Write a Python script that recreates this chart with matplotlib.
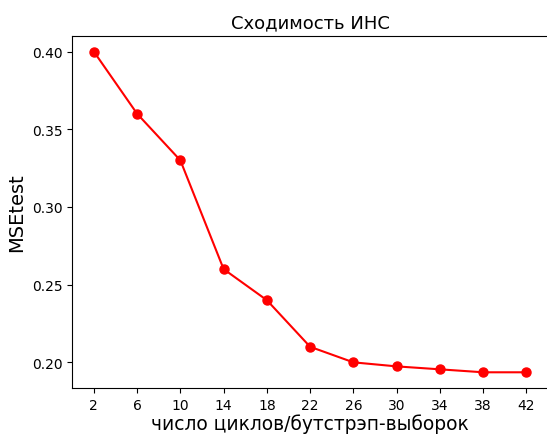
import matplotlib
matplotlib.use('Agg')
import matplotlib.pyplot as plt

cycles = [2, 6, 10, 14, 18, 22, 26, 30, 34, 38, 42]
mse_test = [0.400, 0.360, 0.330, 0.260, 0.240, 0.210, 0.200, 0.1974, 0.1955, 0.1936, 0.1936]

fig = plt.figure(figsize=(5.47, 4.35), dpi=100)
ax = fig.add_axes([0.132, 0.105, 0.870, 0.811])
ax.plot(cycles, mse_test, 'o-', color='red', markersize=6.5)
ax.set_xticks(cycles)
ax.set_title('Сходимость ИНС', fontsize=13)
ax.set_xlabel('число циклов/бутстрэп-выборок', fontsize=13.4, labelpad=1)
ax.set_ylabel('MSEtest', fontsize=14)
plt.savefig('out.png', dpi=100)
